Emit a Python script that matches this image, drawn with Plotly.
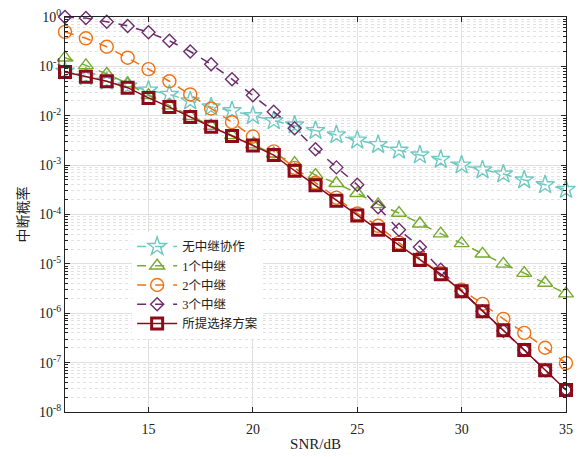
import plotly.graph_objects as go

snr = list(range(11, 36))

no_relay = [0.08, 0.062, 0.05, 0.04, 0.033, 0.027, 0.020, 0.015, 0.0126, 0.010,
            0.0079, 0.0065, 0.0050, 0.0041, 0.0032, 0.0026, 0.0020, 0.0016, 0.0013,
            0.0010, 8.0e-4, 6.6e-4, 5.0e-4, 4.0e-4, 3.2e-4]
relay1 = [0.15, 0.105, 0.07, 0.045, 0.026, 0.016, 0.0098, 0.0062, 0.0040, 0.0026,
          0.0017, 1.1e-3, 6.3e-4, 4.3e-4, 2.7e-4, 1.6e-4, 1.07e-4, 6.5e-5, 4.1e-5,
          2.6e-5, 1.6e-5, 1.0e-5, 6.5e-6, 4.1e-6, 2.5e-6]
relay2 = [0.50, 0.37, 0.25, 0.15, 0.088, 0.050, 0.027, 0.014, 0.0074, 0.0038,
          0.0019, 8.8e-4, 4.4e-4, 2.2e-4, 1.05e-4, 5.9e-5, 2.7e-5, 1.3e-5, 6.5e-6,
          3.0e-6, 1.55e-6, 7.7e-7, 4.0e-7, 2.0e-7, 9.8e-8]
relay3 = [1.0, 0.95, 0.80, 0.66, 0.49, 0.33, 0.20, 0.11, 0.055, 0.026,
          0.012, 0.0056, 0.0021, 9.0e-4, 4.0e-4, 1.4e-4, 4.9e-5, 2.2e-5, 7.6e-6,
          2.8e-6, 1.1e-6, 4.4e-7, 1.8e-7, 7.0e-8, 2.8e-8]
proposed = [0.077, 0.062, 0.050, 0.037, 0.023, 0.015, 0.0094, 0.0060, 0.0039, 0.0025,
            0.0016, 7.7e-4, 3.9e-4, 1.9e-4, 9.6e-5, 4.9e-5, 2.4e-5, 1.2e-5, 6.2e-6,
            2.8e-6, 1.1e-6, 4.5e-7, 1.8e-7, 7.0e-8, 2.8e-8]

names = ["无中继协作", "1个中继", "2个中继", "3个中继", "所提选择方案"]
x_ticks = [15, 20, 25, 30, 35]
y_exps = list(range(-8, 1))
y_ticktext = ["10<sup>%d</sup>" % e for e in y_exps]

FONT = "Liberation Serif, Times New Roman, Noto Sans CJK SC, serif"

fig = go.Figure()

series = [
    (no_relay, names[0], "#6fc9c2", "star-open", "dash", 14),
    (relay1, names[1], "#76ab2f", "triangle-up-open", "dash", 13),
    (relay2, names[2], "#f07214", "circle-open", "dash", 13),
    (relay3, names[3], "#6b2d6b", "diamond-open", "dash", 10),
    (proposed, names[4], "#8b0c18", "square-open", "solid", 11),
]
for ys, nm, col, sym, dash, sz in series:
    fig.add_trace(go.Scatter(
        x=snr, y=ys, name=nm, mode="lines+markers",
        line=dict(color=col, width=1.5, dash=dash),
        marker=dict(symbol=sym, size=sz, color=col,
                    line=dict(color=col, width=3 if sym == "square-open" else 1.4)),
        cliponaxis=False,
    ))

minor_vals = [k * 10.0 ** e for e in range(-8, 0) for k in range(2, 10)]

fig.update_layout(
    width=578, height=457,
    margin=dict(l=65, r=12, t=17, b=45),
    paper_bgcolor="white", plot_bgcolor="white",
    font=dict(family=FONT, size=14, color="#222"),
    showlegend=True,
    legend=dict(x=0.134, y=0.456, xanchor="left", yanchor="top",
                bgcolor="white", borderwidth=0,
                font=dict(family=FONT, size=12.5, color="#222"),
                tracegroupgap=0, itemwidth=40),
    xaxis=dict(
        range=[11, 35], tickvals=x_ticks, ticks="inside", ticklen=5,
        showline=True, linecolor="#222", linewidth=1.2, mirror="ticks",
        tickcolor="#222", ticklabelstandoff=4, automargin=False,
        showgrid=True, gridcolor="#e0e0e0", gridwidth=1,
        zeroline=False,
        title=dict(text="SNR/dB", font=dict(family=FONT, size=15), standoff=2),
        tickfont=dict(family=FONT, size=14),
    ),
    yaxis=dict(
        type="log", range=[-8, 0], automargin=False,
        tickvals=[10.0 ** e for e in y_exps], ticktext=y_ticktext,
        ticks="inside", ticklen=5, tickcolor="#222",
        showline=True, linecolor="#222", linewidth=1.2, mirror="ticks",
        showgrid=True, gridcolor="#e0e0e0", gridwidth=1,
        zeroline=False,
        minor=dict(tickvals=minor_vals, ticks="inside", ticklen=3, tickcolor="#222",
                   showgrid=True, gridcolor="#e2e2e2", griddash="dot", gridwidth=1),
        title=dict(text="中断概率", font=dict(family="Noto Sans CJK SC", size=14), standoff=7),
        tickfont=dict(family=FONT, size=14),
    ),
)

fig.write_html("out.html", config={"displayModeBar": False},
               post_script="document.body.style.margin='0';")
